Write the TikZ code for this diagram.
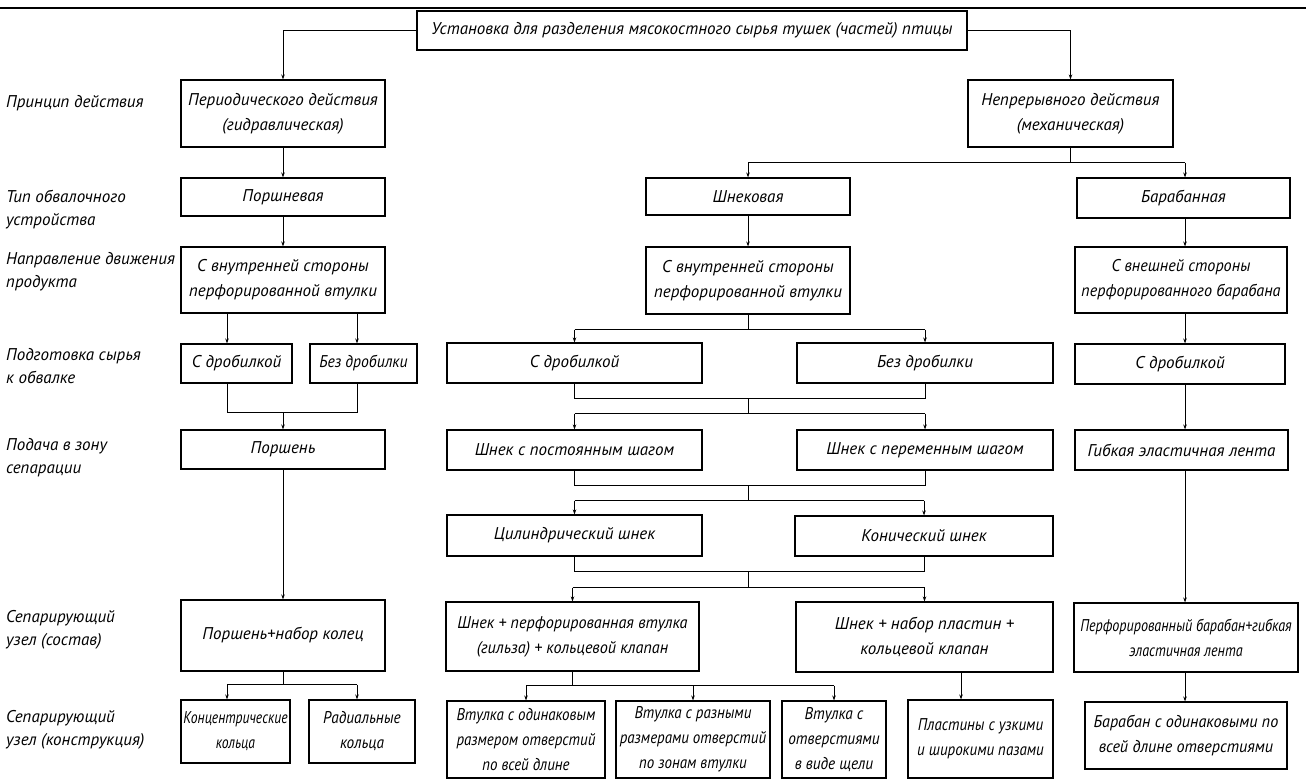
\documentclass[tikz,border=0pt]{standalone}
\usepackage{fontspec}
\setmainfont{PT Sans}
\usetikzlibrary{arrows.meta}
\newcommand{\BX}[7][]{\node[box,#1,minimum width={#5-#3},minimum height={#6-#4}] (#2) at ({(#3+#5)/2},{(#4+#6)/2}) {#7};}
\begin{document}
\begin{tikzpicture}[x=1pt,y=-1pt,
  box/.style={draw,line width=1.1pt,align=center,inner sep=0pt,font=\fontsize{17}{25}\selectfont\itshape},
  nar/.style={font=\fontsize{17}{25}\selectfont\itshape\addfontfeature{FakeStretch=#1}},
  lbl/.style={anchor=west,align=left,inner sep=0pt,font=\fontsize{17}{23}\selectfont\itshape},
  arr/.style={line width=1pt,-{Stealth[length=5pt,width=3.5pt]}},
  ln/.style={line width=1pt}]
\fill[white] (0,0) rectangle (1306,781);
\useasboundingbox (0,0) rectangle (1306,781);
\draw[line width=2.2pt] (0,8) -- (1306,8);

% labels
\node[lbl] (l1) at (6,103) {Принцип действия};
\node[lbl] (l2) at (6,210) {Тип обвалочного\\устройства};
\node[lbl] (l3) at (6,272) {Направление движения\\продукта};
\node[lbl] (l4) at (6,366) {Подготовка сырья\\к обвалке};
\node[lbl] (l5) at (6,458) {Подача в зону\\сепарации};
\node[lbl] (l6) at (6,630) {Сепарирующий\\узел (состав)};
\node[lbl] (l7) at (6,730) {Сепарирующий\\узел (конструкция)};

% boxes
\BX{top}{417}{11}{967}{50}{Установка для разделения мясокостного сырья тушек (частей) птицы}
\BX{per}{181}{80}{385}{147}{Периодического действия\\(гидравлическая)}
\BX{nep}{968}{80}{1173}{147}{Непрерывного действия\\(механическая)}
\BX{por}{181}{178}{385}{216}{Поршневая}
\BX{shn}{646}{178}{850}{215}{Шнековая}
\BX{bar}{1077}{178}{1290}{218}{Барабанная}
\BX{vn1}{181}{247}{385}{313}{С внутренней стороны\\перфорированной втулки}
\BX{vn2}{646}{247}{850}{314}{С внутренней стороны\\перфорированной втулки}
\BX[nar=0.95]{vns}{1075}{247}{1287}{313}{С внешней стороны\\перфорированного барабана}
\BX{dr1}{181}{344}{292}{383}{С дробилкой}
\BX[nar=0.92]{bd1}{310}{344}{417}{383}{Без дробилки}
\BX{dr2}{447}{343}{702}{383}{С дробилкой}
\BX{bd2}{797}{343}{1053}{383}{Без дробилки}
\BX{dr3}{1075}{344}{1285}{384}{С дробилкой}
\BX{prs}{181}{430}{385}{469}{Поршень}
\BX{spo}{447}{430}{702}{470}{Шнек с постоянным шагом}
\BX{spe}{797}{430}{1053}{470}{Шнек с переменным шагом}
\BX{gib}{1075}{430}{1288}{470}{Гибкая эластичная лента}
\BX{cyl}{447}{515}{702}{556}{Цилиндрический шнек}
\BX{kon}{795}{516}{1053}{556}{Конический шнек}
\BX{pnk}{181}{600}{385}{671}{Поршень+набор колец}
\BX[nar=0.95]{spv}{446}{602}{699}{671}{Шнек + перфорированная втулка\\(гильза) + кольцевой клапан}
\BX{snp}{796}{602}{1053}{672}{Шнек + набор пластин +\\кольцевой клапан}
\BX[nar=0.83]{pbg}{1074}{603}{1298}{672}{Перфорированный барабан+гибкая\\эластичная лента}
\BX[nar=0.8]{kk}{181}{700}{290}{763}{Концентрические\\кольца}
\BX[nar=0.9]{rk}{309}{700}{415}{763}{Радиальные\\кольца}
\BX[nar=0.88]{v1}{447}{701}{605}{778}{Втулка с одинаковым\\размером отверстий\\по всей длине}
\BX[nar=0.88]{v2}{616}{701}{770}{778}{Втулка с разными\\размерами отверстий\\по зонам втулки}
\BX[nar=0.9]{v3}{782}{701}{886}{778}{Втулка с\\отверстиями\\в виде щели}
\BX[nar=0.88]{pl}{908}{700}{1053}{778}{Пластины с узкими\\и широкими пазами}
\BX[nar=0.95]{bo}{1085}{702}{1287}{769}{Барабан с одинаковыми по\\всей длине отверстиями}

% helper coordinates
\coordinate (xa) at (227,0);
\coordinate (xb) at (357,0);
\coordinate (xr) at (1185,0);
\coordinate (xp) at (961,0);

% top level
\draw[arr] (top.west) -| (per.north);
\draw[arr] (top.east) -| (nep.north);

% left column
\draw[arr] (per) -- (por);
\draw[arr] (por) -- (vn1);
\draw[arr] (vn1.south -| xa) -- (dr1.north -| xa);
\draw[arr] (vn1.south -| xb) -- (bd1.north -| xb);
\coordinate (jl1) at (283,412);
\draw[ln] (dr1.south -| xa) -- (xa |- jl1) -- (xb |- jl1) -- (bd1.south -| xb);
\draw[arr] (jl1) -- (prs);
\draw[arr] (prs) -- (pnk);
\draw[ln] (pnk.south) -- ++(0,13) coordinate (jl2);
\draw[ln] (xa |- jl2) -- (xb |- jl2);
\draw[arr] (xa |- jl2) -- (kk.north -| xa);
\draw[arr] (xb |- jl2) -- (rk.north -| xb);

% middle column
\draw[ln] (nep.south) -- ++(0,15) coordinate (jr1);
\draw[ln] (jr1 -| shn.north) -- (jr1 -| xr);
\draw[arr] (jr1 -| shn.north) -- (shn.north);
\draw[arr] (jr1 -| xr) -- (bar.north -| xr);
\draw[arr] (shn) -- (vn2);
\draw[ln] (vn2.south) -- ++(0,15) coordinate (jm1);
\draw[ln] (jm1 -| dr2.north) -- (jm1 -| bd2.north);
\draw[arr] (jm1 -| dr2.north) -- (dr2.north);
\draw[arr] (jm1 -| bd2.north) -- (bd2.north);

\draw[ln] (dr2.south) -- ++(0,15) coordinate (u1) -- (u1 -| bd2.south) -- (bd2.south);
\draw[ln] (u1 -| vn2.south) -- ++(0,15) coordinate (d1);
\draw[ln] (d1 -| spo.north) -- (d1 -| spe.north);
\draw[arr] (d1 -| spo.north) -- (spo.north);
\draw[arr] (d1 -| spe.north) -- (spe.north);

\draw[ln] (spo.south) -- ++(0,15) coordinate (u2) -- (u2 -| spe.south) -- (spe.south);
\draw[ln] (u2 -| vn2.south) -- ++(0,15) coordinate (d2);
\draw[ln] (d2 -| cyl.north) -- (d2 -| kon.north);
\draw[arr] (d2 -| cyl.north) -- (cyl.north);
\draw[arr] (d2 -| kon.north) -- (kon.north);

\draw[ln] (cyl.south) -- ++(0,15) coordinate (u3) -- (u3 -| kon.south) -- (kon.south);
\draw[ln] (u3 -| vn2.south) -- ++(0,16) coordinate (d3);
\draw[ln] (d3 -| spv.north) -- (d3 -| snp.north);
\draw[arr] (d3 -| spv.north) -- (spv.north);
\draw[arr] (d3 -| snp.north) -- (snp.north);

\draw[ln] (spv.south) -- ++(0,14) coordinate (jv);
\draw[ln] (jv -| v1.north) -- (jv -| v3.north);
\draw[arr] (jv -| v1.north) -- (v1.north);
\draw[arr] (jv -| v2.north) -- (v2.north);
\draw[arr] (jv -| v3.north) -- (v3.north);
\draw[arr] (snp.south -| xp) -- (pl.north -| xp);

% right column
\draw[arr] (bar.south -| xr) -- (vns.north -| xr);
\draw[arr] (vns.south -| xr) -- (dr3.north -| xr);
\draw[arr] (dr3.south -| xr) -- (gib.north -| xr);
\draw[arr] (gib.south -| xr) -- (pbg.north -| xr);
\draw[arr] (pbg.south -| xr) -- (bo.north -| xr);
\end{tikzpicture}
\end{document}
